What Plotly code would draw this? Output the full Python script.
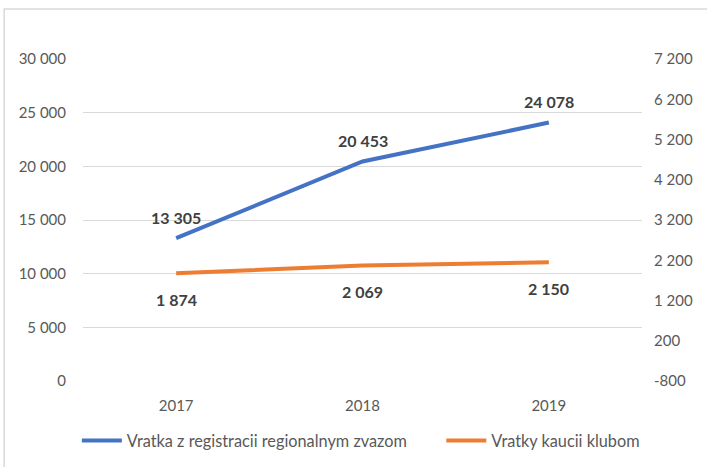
import plotly.graph_objects as go

years = ["2017", "2018", "2019"]
blue_name = "Vratka z registracii regionalnym zvazom"
orange_name = "Vratky kaucii klubom"
blue_vals = [13305, 20453, 24078]
orange_vals = [1874, 2069, 2150]
left_ticks = [0, 5000, 10000, 15000, 20000, 25000, 30000]
left_text = ["0", "5 000", "10 000", "15 000", "20 000", "25 000", "30 000"]
right_ticks = [-800, 200, 1200, 2200, 3200, 4200, 5200, 6200, 7200]
right_text = ["-800", "200", "1 200", "2 200", "3 200", "4 200", "5 200", "6 200", "7 200"]

def fmt(v):
    return f"{v:,}".replace(",", " ")

FONT = "Lato, Carlito, sans-serif"
BLUE = "#4472C4"
ORANGE = "#ED7D31"
TICK = dict(size=15, color="#595959")

fig = go.Figure()
fig.add_trace(go.Scatter(x=years, y=blue_vals, mode="lines", name=blue_name,
                         line=dict(color=BLUE, width=4), yaxis="y", legend="legend"))
fig.add_trace(go.Scatter(x=years, y=orange_vals, mode="lines", name=orange_name,
                         line=dict(color=ORANGE, width=4), yaxis="y2", legend="legend2"))

annotations = []
for i, v in enumerate(blue_vals):
    annotations.append(dict(x=i, y=v, xref="x", yref="y", text=fmt(v), showarrow=False,
                            yshift=21, font=dict(family=FONT, size=16, color="#404040", weight="bold")))
for i, v in enumerate(orange_vals):
    annotations.append(dict(x=i, y=v, xref="x", yref="y2", text=fmt(v), showarrow=False,
                            yshift=-26, font=dict(family=FONT, size=16, color="#404040", weight="bold")))

legend_common = dict(orientation="h", xanchor="left", y=-0.186, yanchor="middle",
                     font=dict(size=16.3, color="#595959", family=FONT), itemwidth=40,
                     bgcolor="rgba(0,0,0,0)")

fig.update_layout(
    width=707, height=467,
    margin=dict(l=83, r=65, t=59, b=86, autoexpand=False),
    paper_bgcolor="white", plot_bgcolor="white",
    font=dict(family=FONT, size=15, color="#595959"),
    xaxis=dict(type="category", range=[-0.5, 2.5], showgrid=False, showline=False,
               ticks="", zeroline=False, automargin=False, ticklabelstandoff=14,
               tickfont=TICK),
    yaxis=dict(range=[0, 30000], tickvals=left_ticks, ticktext=left_text,
               showgrid=True, gridcolor="#D9D9D9", gridwidth=1, zeroline=False,
               showline=False, ticks="", ticklabelstandoff=16, automargin=False,
               tickfont=TICK),
    yaxis2=dict(range=[-800, 7200], tickvals=right_ticks, ticktext=right_text,
                overlaying="y", side="right", showgrid=False, zeroline=False,
                showline=False, ticks="", ticklabelstandoff=11, automargin=False,
                tickfont=TICK),
    legend=dict(x=-0.011, **legend_common),
    legend2=dict(x=0.641, **legend_common),
    showlegend=True,
    annotations=annotations,
    shapes=[dict(type="rect", xref="paper", yref="paper", x0=-0.141, x1=1.13,
                 y0=-0.283, y1=1.155, line=dict(color="#D9D9D9", width=1.5),
                 fillcolor="rgba(0,0,0,0)", layer="below")],
)

fig.write_html("out.html", config={"displayModeBar": False},
               post_script="document.body.style.margin='0';document.body.style.overflow='hidden';")
